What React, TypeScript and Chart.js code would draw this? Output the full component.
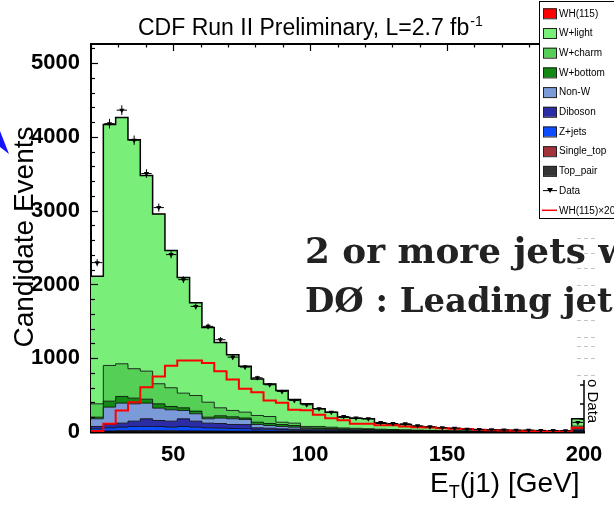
import React, { useEffect, useRef } from "react";
import { Chart, registerables } from "chart.js";

Chart.register(...registerables);

// ---- data ----
const binEdges = [20, 24.5, 29, 33.5, 38, 42.5, 47, 51.5, 56, 60.5, 65, 69.5, 74, 78.5, 83, 87.5, 92, 96.5, 101, 105.5, 110, 114.5, 119, 123.5, 128, 132.5, 137, 141.5, 146, 150.5, 155, 159.5, 164, 168.5, 173, 177.5, 182, 186.5, 191, 195.5, 200];

const topPair = [3, 6, 8, 9, 10, 10, 10, 9, 9, 8, 8, 7, 7, 6, 5, 5, 4, 4, 3, 3, 3, 2, 2, 2, 2, 1, 1, 1, 1, 1, 1, 1, 1, 1, 0, 0, 0, 0, 0, 2];
const singleTop = [4, 8, 9, 9, 8, 7, 6, 6, 5, 5, 4, 4, 3, 3, 2, 2, 2, 2, 1, 1, 1, 1, 1, 1, 1, 1, 1, 1, 0, 0, 0, 0, 0, 0, 0, 0, 0, 0, 0, 1];
const zJets = [36, 43, 48, 57, 57, 58, 49, 60, 51, 44, 40, 37, 35, 21, 23, 18, 16, 12, 12, 10, 8, 8, 7, 6, 5, 5, 4, 3, 4, 3, 3, 2, 2, 2, 2, 2, 2, 2, 2, 17];
const diboson = [32, 45, 55, 72, 104, 81, 82, 104, 82, 63, 63, 54, 55, 27, 22, 18, 16, 12, 12, 11, 10, 9, 8, 7, 6, 5, 4, 4, 3, 3, 2, 2, 2, 1, 2, 1, 1, 1, 1, 10];
const nonW = [104, 235, 271, 235, 212, 167, 154, 113, 100, 59, 73, 77, 70, 45, 36, 32, 27, 13, 12, 11, 10, 9, 8, 6, 6, 6, 5, 4, 3, 3, 2, 2, 1, 2, 1, 1, 1, 1, 0, 15];
const wBottom = [22, 81, 91, 77, 54, 59, 45, 36, 36, 22, 32, 27, 20, 31, 27, 27, 23, 14, 15, 14, 10, 9, 8, 7, 6, 5, 4, 4, 3, 2, 2, 2, 2, 1, 1, 1, 1, 1, 1, 15];
const wCharm = [181, 484, 443, 399, 380, 272, 254, 199, 212, 203, 108, 86, 79, 91, 95, 31, 32, 18, 20, 15, 13, 12, 11, 9, 8, 7, 6, 5, 4, 4, 3, 2, 2, 2, 2, 2, 1, 1, 1, 20];
const wLight = [1728, 3266, 3338, 3105, 2653, 2303, 1859, 1569, 1257, 1013, 887, 756, 621, 495, 442, 428, 319, 307, 239, 203, 145, 136, 133, 82, 68, 72, 50, 43, 34, 31, 21, 19, 20, 16, 14, 13, 12, 9, 7, 100];
const wh115 = [0, 1, 1, 1, 2, 2, 2, 2, 2, 2, 2, 2, 1, 1, 1, 1, 1, 1, 1, 1, 0, 0, 0, 0, 0, 0, 0, 0, 0, 0, 0, 0, 0, 0, 0, 0, 0, 0, 0, 0];
const dataCounts = [2296, 4180, 4363, 3956, 3504, 3042, 2405, 2065, 1703, 1432, 1251, 1015, 880, 735, 640, 550, 427, 369, 315, 269, 210, 190, 179, 129, 115, 111, 84, 70, 57, 52, 38, 34, 30, 28, 25, 25, 22, 20, 18, 130];
const dataErrors = [48, 65, 66, 63, 59, 55, 49, 45, 41, 38, 35, 32, 30, 27, 25, 23, 21, 19, 18, 16, 14, 14, 13, 11, 11, 11, 9, 8, 8, 7, 6, 6, 5, 5, 5, 5, 5, 4, 4, 11];
const wh115x200 = [15, 111, 292, 404, 608, 753, 898, 970, 970, 934, 825, 712, 586, 540, 427, 396, 301, 295, 235, 185, 158, 111, 111, 90, 90, 75, 65, 61, 50, 43, 40, 30, 25, 20, 18, 15, 12, 10, 8, 57];

const xTickValues = [50, 100, 150, 200];
const yTickValues = [0, 1000, 2000, 3000, 4000, 5000];

// ---- styling tables ----
const SANS = '"Liberation Sans", Arial, Helvetica, sans-serif';

const stackSeries = [
  { label: "Top_pair", values: topPair, color: "#353535" },
  { label: "Single_top", values: singleTop, color: "#a3323a" },
  { label: "Z+jets", values: zJets, color: "#0b4dff" },
  { label: "Diboson", values: diboson, color: "#2c2ca6" },
  { label: "Non-W", values: nonW, color: "#7b9bd8" },
  { label: "W+bottom", values: wBottom, color: "#138a13" },
  { label: "W+charm", values: wCharm, color: "#56cf56" },
  { label: "W+light", values: wLight, color: "#79ef79" },
  { label: "WH(115)", values: wh115, color: "#ff0000" },
];

const legendOrder = ["WH(115)", "W+light", "W+charm", "W+bottom", "Non-W", "Diboson", "Z+jets", "Single_top", "Top_pair"];

function stepPoints(values: number[]) {
  return binEdges.map((e, i) => ({ x: e, y: values[Math.min(i, values.length - 1)] }));
}

const decorPlugin = {
  id: "decor",
  afterDatasetsDraw(chart: any) {
    const { ctx, chartArea: a, scales } = chart;
    const x = scales.x;
    const y = scales.y;
    ctx.save();
    // data error bars
    ctx.strokeStyle = "#000";
    ctx.lineWidth = 1;
    dataCounts.forEach((d, i) => {
      const x0 = x.getPixelForValue(binEdges[i]);
      const x1 = x.getPixelForValue(binEdges[i + 1]);
      const xc = (x0 + x1) / 2;
      const yc = y.getPixelForValue(d);
      ctx.beginPath();
      ctx.moveTo(x0 + 1, yc);
      ctx.lineTo(x1 - 1, yc);
      ctx.moveTo(xc, y.getPixelForValue(d + dataErrors[i]));
      ctx.lineTo(xc, y.getPixelForValue(Math.max(0, d - dataErrors[i])));
      ctx.stroke();
    });
    // left axis inner ticks
    ctx.lineWidth = 1.2;
    for (let v = 0; v <= 5200; v += 200) {
      const py = Math.round(y.getPixelForValue(v)) + 0.5;
      const len = v % 1000 === 0 ? 7 : 4;
      ctx.beginPath();
      ctx.moveTo(a.left, py);
      ctx.lineTo(a.left + len, py);
      ctx.stroke();
    }
    // top frame + ticks
    ctx.lineWidth = 2;
    ctx.beginPath();
    ctx.moveTo(a.left - 1, a.top);
    ctx.lineTo(a.right, a.top);
    ctx.stroke();
    ctx.lineWidth = 1.2;
    for (let v = 20; v <= 200; v += 10) {
      const px = Math.round(x.getPixelForValue(v)) + 0.5;
      const len = v % 50 === 0 ? 7 : 3.5;
      ctx.beginPath();
      ctx.moveTo(px, a.top);
      ctx.lineTo(px, a.top + len);
      ctx.stroke();
    }
    ctx.restore();
  },
  afterDraw(chart: any) {
    const { ctx, chartArea: a } = chart;
    ctx.save();
    ctx.fillStyle = "#000";
    ctx.textBaseline = "alphabetic";

    // title
    ctx.textAlign = "left";
    ctx.font = `23px ${SANS}`;
    const t = "CDF Run II Preliminary, L=2.7 fb";
    ctx.fillText(t, 138, 35);
    const tw = ctx.measureText(t).width;
    ctx.font = `14px ${SANS}`;
    ctx.fillText("-1", 138 + tw + 1, 26);

    // x-axis title
    ctx.font = `28px ${SANS}`;
    ctx.fillText("E", 430, 492);
    const ew = ctx.measureText("E").width;
    ctx.font = `18px ${SANS}`;
    ctx.fillText("T", 430 + ew, 498);
    const tw2 = ctx.measureText("T").width;
    ctx.font = `28px ${SANS}`;
    ctx.fillText("(j1) [GeV]", 430 + ew + tw2, 492);

    // y-axis title
    ctx.save();
    ctx.translate(33, 237);
    ctx.rotate(-Math.PI / 2);
    ctx.textAlign = "center";
    ctx.font = `28px ${SANS}`;
    ctx.fillText("Candidate Events", 0, 0);
    ctx.restore();

    // blue arrow head at the left edge
    ctx.fillStyle = "#1414ff";
    ctx.beginPath();
    ctx.moveTo(0, 131);
    ctx.lineTo(9, 154);
    ctx.lineTo(0, 147);
    ctx.closePath();
    ctx.fill();

    // faint dashed fragments from the overlaid plot
    ctx.strokeStyle = "#c4c4c4";
    ctx.lineWidth = 1;
    ctx.setLineDash([4, 3]);
    [238, 253, 268, 285, 303, 320, 337, 346, 358, 375].forEach((yy) => {
      ctx.beginPath();
      ctx.moveTo(577, yy + 0.5);
      ctx.lineTo(598, yy + 0.5);
      ctx.stroke();
    });
    ctx.setLineDash([]);

    // right-hand axis fragment
    ctx.strokeStyle = "#000";
    ctx.lineWidth = 1.5;
    ctx.beginPath();
    ctx.moveTo(a.right, 380);
    ctx.lineTo(a.right, a.bottom);
    [385, 404, 419].forEach((yy) => {
      ctx.moveTo(a.right, yy);
      ctx.lineTo(a.right - 4, yy);
    });
    ctx.stroke();
    ctx.save();
    ctx.translate(588, 379);
    ctx.rotate(Math.PI / 2);
    ctx.fillStyle = "#000";
    ctx.font = `15px ${SANS}`;
    ctx.textAlign = "left";
    ctx.fillText("o Data", 0, 0);
    ctx.restore();

    // overlay text
    ctx.fillStyle = "#222";
    ctx.textAlign = "left";
    ctx.font = `bold 35.8px "DejaVu Serif", serif`;
    ctx.fillText("2 or more jets with", 305, 263);
    ctx.font = `bold 33.8px "DejaVu Serif", serif`;
    ctx.fillText("DØ : Leading jet", 305, 312);

    // legend
    const lx = 539.5;
    const ly = 1.5;
    ctx.fillStyle = "#fff";
    ctx.fillRect(lx, ly, 90, 217);
    ctx.strokeStyle = "#000";
    ctx.lineWidth = 1;
    ctx.strokeRect(lx, ly, 90, 217);
    ctx.font = `10px ${SANS}`;
    ctx.textBaseline = "middle";
    legendOrder.forEach((name, i) => {
      const s = stackSeries.find((q) => q.label === name)!;
      const cy = 13.3 + i * 19.7;
      ctx.fillStyle = s.color;
      ctx.fillRect(543, cy - 5, 14, 10);
      ctx.strokeStyle = "#222";
      ctx.strokeRect(543.5, cy - 4.5, 13, 10);
      ctx.fillStyle = "#000";
      ctx.fillText(name, 559, cy + 0.5);
    });
    // Data row
    let cy = 13.3 + 9 * 19.7;
    ctx.strokeStyle = "#000";
    ctx.beginPath();
    ctx.moveTo(543, cy);
    ctx.lineTo(557, cy);
    ctx.stroke();
    ctx.beginPath();
    ctx.moveTo(547, cy - 2.5);
    ctx.lineTo(553, cy - 2.5);
    ctx.lineTo(550, cy + 2.5);
    ctx.closePath();
    ctx.fillStyle = "#000";
    ctx.fill();
    ctx.fillText("Data", 559, cy + 0.5);
    // WH x200 row
    cy = 13.3 + 10 * 19.7;
    ctx.strokeStyle = "#ff0000";
    ctx.lineWidth = 1.5;
    ctx.beginPath();
    ctx.moveTo(542, cy);
    ctx.lineTo(557, cy);
    ctx.stroke();
    ctx.fillStyle = "#000";
    ctx.fillText("WH(115)×200", 559, cy + 0.5);

    ctx.restore();
  },
};

export default function App() {
  const ref = useRef<HTMLCanvasElement | null>(null);

  useEffect(() => {
    document.body.style.margin = "0";
    const canvas = ref.current;
    if (!canvas) return;

    const datasets: any[] = [
      {
        label: "Data",
        data: dataCounts.map((v, i) => ({ x: (binEdges[i] + binEdges[i + 1]) / 2, y: v })),
        showLine: false,
        pointStyle: "triangle",
        rotation: 180,
        pointRadius: 3,
        pointBackgroundColor: "#000",
        pointBorderColor: "#000",
        pointBorderWidth: 0,
        fill: false,
        stack: "data",
      },
      {
        label: "WH(115)×200",
        data: stepPoints(wh115x200),
        stepped: "before",
        borderColor: "#ff0000",
        borderWidth: 2,
        pointRadius: 0,
        fill: false,
        stack: "sig",
      },
      ...stackSeries.map((s, k) => ({
        label: s.label,
        data: stepPoints(s.values),
        stepped: "before",
        backgroundColor: s.color,
        borderColor: s.label === "W+light" ? "#000" : "rgba(0,0,0,0.8)",
        borderWidth: s.label === "WH(115)" ? 0 : s.label === "W+light" ? 1.5 : 1,
        pointRadius: 0,
        fill: k === 0 ? "origin" : "-1",
        stack: "mc",
      })),
    ];

    const chart = new Chart(canvas, {
      type: "line",
      data: { datasets },
      options: {
        responsive: false,
        animation: false,
        events: [],
        layout: { padding: { top: 44, right: 30, left: 0, bottom: 0 } },
        plugins: {
          legend: { display: false },
          tooltip: { enabled: false },
          title: { display: false },
        },
        scales: {
          x: {
            type: "linear",
            min: 20,
            max: 200,
            afterBuildTicks: (s: any) => {
              s.ticks = xTickValues.map((v) => ({ value: v }));
            },
            afterFit: (s: any) => {
              s.height = 75;
            },
            grid: { display: false, drawTicks: false },
            border: { display: true, color: "#000", width: 2.5 },
            ticks: {
              font: { family: SANS, size: 22, weight: "bold" },
              color: "#000",
              padding: 10,
              maxRotation: 0,
              autoSkip: false,
              callback: (v: any) => String(v),
            },
          },
          y: {
            type: "linear",
            stacked: true,
            min: 0,
            max: 5260,
            afterBuildTicks: (s: any) => {
              s.ticks = yTickValues.map((v) => ({ value: v }));
            },
            afterFit: (s: any) => {
              s.width = 91;
            },
            grid: { display: false, drawTicks: false },
            border: { display: true, color: "#000", width: 2 },
            ticks: {
              font: { family: SANS, size: 22, weight: "bold" },
              color: "#000",
              padding: 11,
              autoSkip: false,
              callback: (v: any) => String(v),
            },
          },
        },
      } as any,
      plugins: [decorPlugin],
    });

    return () => chart.destroy();
  }, []);

  return <canvas ref={ref} width={614} height={507} style={{ display: "block" }} />;
}
